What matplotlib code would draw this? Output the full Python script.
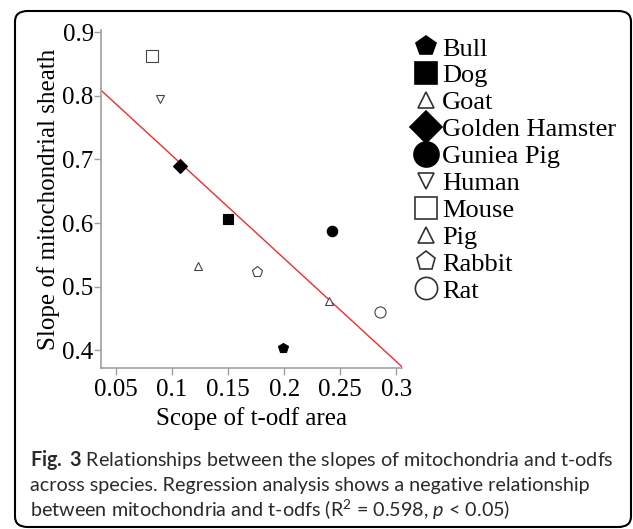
import numpy as np
import matplotlib
matplotlib.use("Agg")
import matplotlib.pyplot as plt
from matplotlib.lines import Line2D
from matplotlib.patches import FancyBboxPatch

# 数据: 各物种的 t-odf 面积斜率 与 线粒体鞘斜率
species = ["Bull", "Dog", "Goat", "Golden Hamster", "Guniea Pig",
           "Human", "Mouse", "Pig", "Rabbit", "Rat"]
todf_scope = [0.199, 0.150, 0.123, 0.107, 0.243, 0.089, 0.082, 0.240, 0.176, 0.285]
mito_slope = [0.403, 0.607, 0.532, 0.690, 0.588, 0.795, 0.862, 0.478, 0.523, 0.460]

x_ticks = [0.05, 0.1, 0.15, 0.2, 0.25, 0.3]
x_tick_labels = ["0.05", "0.1", "0.15", "0.2", "0.25", "0.3"]
y_ticks = [0.4, 0.5, 0.6, 0.7, 0.8, 0.9]

# 每个物种的标记样式: (marker, 是否填充, 图中大小, 图例大小)
styles = {
    "Bull": ("p", True, 7.5, 15),
    "Dog": ("s", True, 7.5, 16),
    "Goat": ("^", False, 6, 11),
    "Golden Hamster": ("D", True, 7.5, 16),
    "Guniea Pig": ("o", True, 7.5, 18),
    "Human": ("v", False, 6, 11),
    "Mouse": ("s", False, 8, 16),
    "Pig": ("^", False, 6, 11),
    "Rabbit": ("p", False, 8, 14),
    "Rat": ("o", False, 8, 16),
}

plt.rcParams["font.family"] = ["Liberation Serif", "DejaVu Serif"]
plt.rcParams["mathtext.fontset"] = "custom"
plt.rcParams["mathtext.rm"] = "Lato"
plt.rcParams["mathtext.bf"] = "Lato:bold"
plt.rcParams["mathtext.it"] = "Lato:italic"

fig = plt.figure(figsize=(6.33, 5.29), dpi=100)
ax = fig.add_axes([0.159, 0.304, 0.476, 0.639])

grey = "#a0a0a0"
for name, xv, yv in zip(species, todf_scope, mito_slope):
    m, filled, ms, _ = styles[name]
    ax.plot(xv, yv, linestyle="none", marker=m, markersize=ms,
            markerfacecolor="black" if filled else "white",
            markeredgecolor="black" if filled else "#444444",
            markeredgewidth=0.8)

# 线性回归拟合线
xlim = (0.0364, 0.305)
k, b = np.polyfit(todf_scope, mito_slope, 1)
xs = np.array(xlim)
ax.plot(xs, k * xs + b, color="#e8302c", linewidth=1.0, zorder=1)

ax.set_xlim(*xlim)
ax.set_ylim(0.372, 0.903)
ax.set_xticks(x_ticks)
ax.set_xticklabels(x_tick_labels)
ax.set_yticks(y_ticks)
ax.set_yticklabels([f"{v:.1f}" for v in y_ticks])

for side in ["top", "right"]:
    ax.spines[side].set_visible(False)
for side in ["left", "bottom"]:
    ax.spines[side].set_color(grey)
    ax.spines[side].set_linewidth(1.2)
ax.tick_params(axis="both", colors=grey, labelcolor="black", length=5, width=1)
ax.tick_params(axis="x", labelsize=18, pad=3)
ax.tick_params(axis="y", labelsize=18, pad=0)

ax.set_xlabel("Scope of t-odf area", fontsize=18, labelpad=4)
ax.set_ylabel("Slope of mitochondrial sheath", fontsize=18, labelpad=2)

# 图例: 放在坐标轴右侧
handles = []
for name in species:
    m, filled, _, lms = styles[name]
    handles.append(Line2D([], [], linestyle="none", marker=m, markersize=lms,
                          markerfacecolor="black" if filled else "white",
                          markeredgecolor="black" if filled else "#333333",
                          markeredgewidth=1.2, label=name))
fig.legend(handles=handles, loc="upper left", bbox_to_anchor=(0.655, 0.93),
           frameon=False, fontsize=19, labelspacing=0.13, handlelength=0.9,
           handletextpad=0.15, borderaxespad=0, borderpad=0)

# 图注
cap_kw = dict(fontsize=14.2, family="Lato", color="#2a2a2a", ha="left", va="center")
fig.text(0.047, 1 - 460 / 529,
         r"$\mathbf{Fig.}$ $\mathbf{3}$ Relationships between the slopes of mitochondria and t-odfs",
         **cap_kw)
fig.text(0.047, 1 - 485 / 529,
         "across species. Regression analysis shows a negative relationship", **cap_kw)
fig.text(0.047, 1 - 510 / 529,
         r"between mitochondria and t-odfs (R$^2$ = 0.598, $p$ < 0.05)", **cap_kw)

# 外框
frame = FancyBboxPatch((15 / 633, 2 / 529), 1 - 17 / 633, 1 - 13 / 529,
                       boxstyle="round,pad=0,rounding_size=0.02",
                       transform=fig.transFigure, fill=False,
                       edgecolor="black", linewidth=1.5)
fig.patches.append(frame)

fig.savefig("out.png", dpi=100)
plt.close(fig)
